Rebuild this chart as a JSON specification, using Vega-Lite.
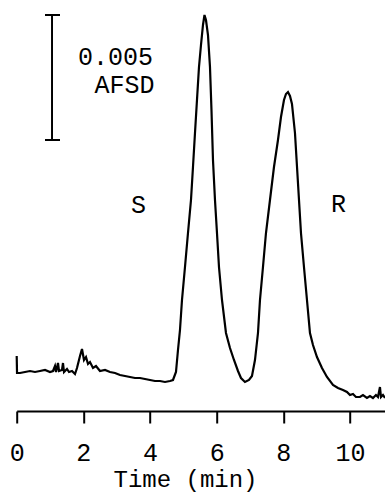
{
  "$schema": "https://vega.github.io/schema/vega-lite/v6.json",
  "width": 368.3,
  "height": 411,
  "autosize": "none",
  "padding": {"left": 16.7, "top": 0, "right": 0, "bottom": 82},
  "background": "white",
  "config": {"view": {"stroke": null}},
  "datasets": {
    "trace": [
      {"t": 0.0, "v": 2.2}, {"t": 0.01, "v": 1.52}, {"t": 0.099, "v": 1.52}, {"t": 0.249, "v": 1.56},
      {"t": 0.399, "v": 1.6}, {"t": 0.549, "v": 1.56}, {"t": 0.699, "v": 1.6}, {"t": 0.849, "v": 1.64},
      {"t": 0.999, "v": 1.56}, {"t": 1.089, "v": 1.6}, {"t": 1.149, "v": 1.8}, {"t": 1.179, "v": 1.56},
      {"t": 1.239, "v": 1.92}, {"t": 1.269, "v": 1.6}, {"t": 1.359, "v": 1.64}, {"t": 1.389, "v": 1.92},
      {"t": 1.419, "v": 1.56}, {"t": 1.509, "v": 1.68}, {"t": 1.569, "v": 1.56}, {"t": 1.659, "v": 1.6},
      {"t": 1.749, "v": 1.48}, {"t": 1.809, "v": 1.72}, {"t": 1.899, "v": 2.2}, {"t": 1.959, "v": 2.48},
      {"t": 2.019, "v": 2.04}, {"t": 2.079, "v": 2.16}, {"t": 2.139, "v": 1.88}, {"t": 2.199, "v": 1.96},
      {"t": 2.289, "v": 1.72}, {"t": 2.379, "v": 1.8}, {"t": 2.499, "v": 1.6}, {"t": 2.649, "v": 1.64},
      {"t": 2.799, "v": 1.56}, {"t": 2.949, "v": 1.52}, {"t": 3.099, "v": 1.44}, {"t": 3.249, "v": 1.4},
      {"t": 3.399, "v": 1.36}, {"t": 3.549, "v": 1.32}, {"t": 3.699, "v": 1.32}, {"t": 3.849, "v": 1.28},
      {"t": 3.999, "v": 1.24}, {"t": 4.149, "v": 1.2}, {"t": 4.299, "v": 1.2}, {"t": 4.449, "v": 1.16},
      {"t": 4.599, "v": 1.2}, {"t": 4.689, "v": 1.24}, {"t": 4.779, "v": 1.56}, {"t": 4.839, "v": 2.44},
      {"t": 4.899, "v": 3.24}, {"t": 4.959, "v": 4.44}, {"t": 5.049, "v": 5.76}, {"t": 5.139, "v": 7.12},
      {"t": 5.229, "v": 8.44}, {"t": 5.289, "v": 9.76}, {"t": 5.349, "v": 11.12}, {"t": 5.409, "v": 12.44},
      {"t": 5.469, "v": 13.76}, {"t": 5.529, "v": 14.64}, {"t": 5.589, "v": 15.44}, {"t": 5.634, "v": 15.84},
      {"t": 5.679, "v": 15.64}, {"t": 5.739, "v": 15.04}, {"t": 5.799, "v": 13.76}, {"t": 5.844, "v": 12.04},
      {"t": 5.889, "v": 10.04}, {"t": 5.949, "v": 8.44}, {"t": 6.009, "v": 7.12}, {"t": 6.069, "v": 5.76},
      {"t": 6.159, "v": 4.44}, {"t": 6.279, "v": 3.12}, {"t": 6.399, "v": 2.52}, {"t": 6.519, "v": 2.04},
      {"t": 6.639, "v": 1.6}, {"t": 6.729, "v": 1.32}, {"t": 6.849, "v": 1.16}, {"t": 6.969, "v": 1.24},
      {"t": 7.059, "v": 1.4}, {"t": 7.149, "v": 2.04}, {"t": 7.239, "v": 3.12}, {"t": 7.299, "v": 4.44},
      {"t": 7.389, "v": 5.76}, {"t": 7.479, "v": 7.12}, {"t": 7.599, "v": 8.44}, {"t": 7.719, "v": 9.76},
      {"t": 7.839, "v": 10.84}, {"t": 7.929, "v": 11.76}, {"t": 8.019, "v": 12.44}, {"t": 8.079, "v": 12.68},
      {"t": 8.139, "v": 12.76}, {"t": 8.199, "v": 12.6}, {"t": 8.259, "v": 12.28}, {"t": 8.349, "v": 11.12},
      {"t": 8.439, "v": 9.12}, {"t": 8.529, "v": 7.12}, {"t": 8.619, "v": 5.76}, {"t": 8.709, "v": 4.44},
      {"t": 8.799, "v": 3.12}, {"t": 8.889, "v": 2.64}, {"t": 9.009, "v": 2.16}, {"t": 9.159, "v": 1.72},
      {"t": 9.309, "v": 1.36}, {"t": 9.489, "v": 1.04}, {"t": 9.639, "v": 0.92}, {"t": 9.789, "v": 0.84},
      {"t": 9.909, "v": 0.76}, {"t": 9.999, "v": 0.64}, {"t": 10.089, "v": 0.68}, {"t": 10.179, "v": 0.56},
      {"t": 10.299, "v": 0.56}, {"t": 10.389, "v": 0.64}, {"t": 10.509, "v": 0.52}, {"t": 10.599, "v": 0.6},
      {"t": 10.689, "v": 0.52}, {"t": 10.779, "v": 0.64}, {"t": 10.839, "v": 0.56}, {"t": 10.899, "v": 0.96},
      {"t": 10.929, "v": 0.56}, {"t": 10.989, "v": 0.64}, {"t": 11.049, "v": 0.52}
    ],
    "labels": [
      {"t": 1.839, "v": 13.84, "text": "0.005"},
      {"t": 2.334, "v": 12.72, "text": "AFSD"},
      {"t": 3.429, "v": 7.92, "text": "S"},
      {"t": 9.43, "v": 7.96, "text": "R"}
    ],
    "scalebar": [
      {"t": 1.06, "t2": 1.06, "v": 10.84, "v2": 15.84},
      {"t": 0.849, "t2": 1.299, "v": 15.84, "v2": 15.84},
      {"t": 0.849, "t2": 1.299, "v": 10.84, "v2": 10.84}
    ]
  },
  "layer": [
    {
      "data": {"name": "trace"},
      "mark": {"type": "line", "color": "black", "strokeWidth": 2.2, "clip": false},
      "encoding": {
        "x": {
          "field": "t", "type": "quantitative",
          "scale": {"domain": [0, 11.05], "nice": false, "zero": false},
          "axis": {
            "title": "Time (min)",
            "values": [0, 1, 2, 3, 4, 5, 6, 7, 8, 9, 10, 11],
            "labelExpr": "datum.value % 2 === 0 ? datum.label : ''",
            "grid": false,
            "domainColor": "black", "domainWidth": 2,
            "tickColor": "black", "tickWidth": 2,
            "tickSize": {"condition": {"test": "datum.value % 2 === 0", "value": 12}, "value": 7},
            "labelFont": "Liberation Mono", "labelFontSize": 25, "labelColor": "black",
            "labelBaseline": "alphabetic", "labelPadding": 37, "labelFlush": false, "labelOverlap": false,
            "titleFont": "Liberation Mono", "titleFontSize": 24, "titleFontWeight": "normal", "titleColor": "black",
            "titleX": 168.3, "titleY": 75, "titleAlign": "center", "titleBaseline": "alphabetic", "titleAnchor": null
          }
        },
        "y": {
          "field": "v", "type": "quantitative",
          "scale": {"domain": [0, 16.44], "nice": false, "zero": false},
          "axis": null
        }
      }
    },
    {
      "data": {"name": "scalebar"},
      "mark": {"type": "rule", "color": "black", "strokeWidth": 2},
      "encoding": {
        "x": {"field": "t", "type": "quantitative"},
        "x2": {"field": "t2"},
        "y": {"field": "v", "type": "quantitative"},
        "y2": {"field": "v2"}
      }
    },
    {
      "data": {"name": "labels"},
      "mark": {"type": "text", "align": "left", "baseline": "alphabetic", "font": "Liberation Mono", "fontSize": 25, "color": "black"},
      "encoding": {
        "x": {"field": "t", "type": "quantitative"},
        "y": {"field": "v", "type": "quantitative"},
        "text": {"field": "text"}
      }
    }
  ]
}
